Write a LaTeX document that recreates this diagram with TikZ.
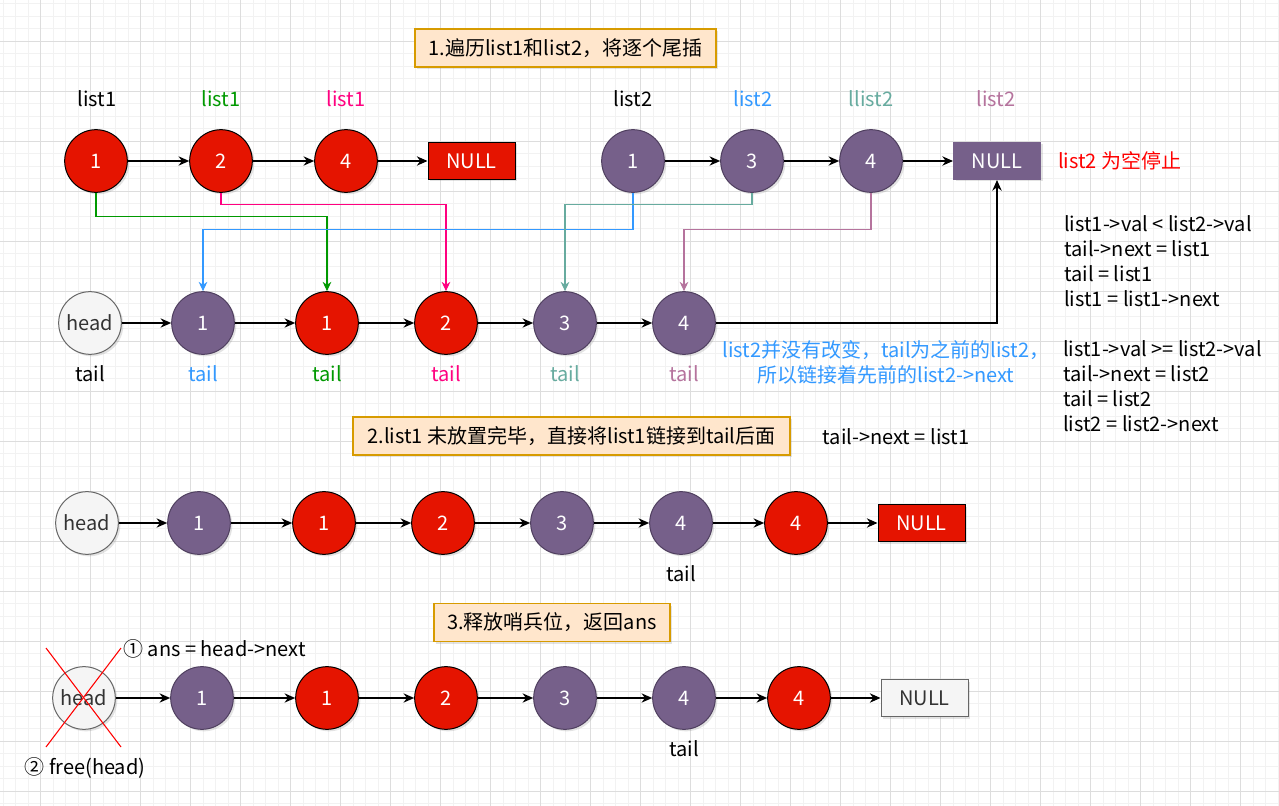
\documentclass[tikz,border=0pt]{standalone}
\usepackage{fontspec}
\setmainfont{Noto Sans CJK SC}
\usepackage{xcolor}
\usepackage{tikz}
\usetikzlibrary{arrows.meta, positioning, shadows}
\definecolor{nodered}{HTML}{E51400}
\definecolor{nodepurple}{HTML}{76608A}
\definecolor{purpleedge}{HTML}{4F3F5F}
\definecolor{headfill}{HTML}{F5F5F5}
\definecolor{headedge}{HTML}{666666}
\definecolor{headtext}{HTML}{333333}
\definecolor{notefill}{HTML}{FFE6CC}
\definecolor{noteedge}{HTML}{D79B00}
\definecolor{tailgreen}{HTML}{009900}
\definecolor{tailpink}{HTML}{FF0080}
\definecolor{tailblue}{HTML}{3399FF}
\definecolor{tailteal}{HTML}{67AB9F}
\definecolor{tailmauve}{HTML}{B5739D}
\definecolor{gridmajor}{HTML}{DDDDDD}
\definecolor{gridminor}{HTML}{F2F2F2}
\tikzset{
  txt/.style={inner sep=0pt, font=\fontsize{15}{18.75}\selectfont},
  softshadow/.style={drop shadow={opacity=0.22, shadow xshift=1.5pt, shadow yshift=-1.5pt}},
  listnode/.style={circle, txt, minimum size=47pt, line width=0.75pt, softshadow},
  rednode/.style={listnode, draw=black, fill=nodered, text=white},
  purplenode/.style={listnode, draw=purpleedge, fill=nodepurple, text=white},
  headnode/.style={listnode, draw=headedge, fill=headfill, text=headtext},
  nullbox/.style={rectangle, txt, minimum width=65.25pt, minimum height=27.75pt, line width=0.75pt, softshadow},
  rednull/.style={nullbox, draw=black, fill=nodered, text=white},
  purplenull/.style={nullbox, draw=nodepurple, fill=nodepurple, text=white},
  whitenull/.style={nullbox, draw=headedge, fill=headfill, text=headtext},
  notebox/.style={rectangle, txt, draw=noteedge, fill=notefill, line width=0.9pt, minimum height=28.5pt, softshadow},
  nextarrow/.style={-{Stealth[length=8pt,width=7pt]}, line width=1pt, black},
  moveline/.style={-{Stealth[length=7pt,width=6.5pt]}, line width=0.8pt}
}

\begin{document}
\begin{tikzpicture}[x=0.75pt, y=-0.75pt]
  \useasboundingbox (0,0) rectangle (1279,806);
  \fill[white] (0,0) rectangle (1279,806);
  \foreach \gx in {3,15.5,...,1279} \draw[gridminor, line width=0.6pt] (\gx,0) -- (\gx,806);
  \foreach \gy in {3.5,16,...,806} \draw[gridminor, line width=0.6pt] (0,\gy) -- (1279,\gy);
  \foreach \gx in {40,90,...,1240} \draw[gridmajor, line width=0.7pt] (\gx,0) -- (\gx,806);
  \foreach \gy in {41,91,...,791} \draw[gridmajor, line width=0.7pt] (0,\gy) -- (1279,\gy);

  % 1. merge
  \node[notebox, minimum width=225.75pt] (step1) at (565.5,48) {1.遍历list1和list2，将逐个尾插};

  \node[txt] (la1) at (97,99) {list1};
  \node[txt, text=tailgreen] (la2) at (221,99) {list1};
  \node[txt, text=tailpink] (la3) at (346,99) {list1};
  \node[txt] (lc1) at (633,99) {list2};
  \node[txt, text=tailblue] (lc2) at (753,99) {list2};
  \node[txt, text=tailteal] (lc3) at (871,99) {llist2};
  \node[txt, text=tailmauve] (lc4) at (996,99) {list2};

  \node[rednode] (a1) at (96,161) {1};
  \node[rednode] (a2) at (221,161) {2};
  \node[rednode] (a3) at (346,161) {4};
  \node[rednull] (a4) at (471.5,161) {NULL};
  \node[purplenode] (c1) at (633,161) {1};
  \node[purplenode] (c2) at (752,161) {3};
  \node[purplenode] (c3) at (871,161) {4};
  \node[purplenull] (c4) at (997,161) {NULL};
  \node[txt, text=red, anchor=west] (stop) at (1058,161) {list2 为空停止};

  \foreach \u/\v in {a1/a2, a2/a3, a3/a4, c1/c2, c2/c3, c3/c4}
    \draw[nextarrow] (\u) -- (\v);

  \node[headnode] (h2) at (90,323) {head};
  \node[purplenode] (b1) at (203,323) {1};
  \node[rednode] (b2) at (327,323) {1};
  \node[rednode] (b3) at (446,323) {2};
  \node[purplenode] (b4) at (565,323) {3};
  \node[purplenode] (b5) at (684,323) {4};

  \foreach \u/\v in {h2/b1, b1/b2, b2/b3, b3/b4, b4/b5}
    \draw[nextarrow] (\u) -- (\v);
  \draw[nextarrow] (b5) -| (c4);

  \draw[moveline, tailgreen] (a1.south) -- ++(0,23.5) -| (b2.north);
  \draw[moveline, tailpink] (a2.south) -- ++(0,11.5) -| (b3.north);
  \draw[moveline, tailblue] (c1.south) -- ++(0,36.5) -| (b1.north);
  \draw[moveline, tailteal] (c2.south) -- ++(0,11.5) -| (b4.north);
  \draw[moveline, tailmauve] (c3.south) -- ++(0,36.5) -| (b5.north);

  \node[txt] (t0) at (90,374) {tail};
  \node[txt, text=tailblue] (t1) at (203,374) {tail};
  \node[txt, text=tailgreen] (t2) at (327,374) {tail};
  \node[txt, text=tailpink] (t3) at (446,374) {tail};
  \node[txt, text=tailteal] (t4) at (565,374) {tail};
  \node[txt, text=tailmauve] (t5) at (684,374) {tail};

  \node[txt, text=tailblue, align=center] (why) at (886,362) {list2并没有改变，tail为之前的list2，\\所以链接着先前的list2->next};

  \node[txt, align=left, anchor=west] (rule1) at (1064,261.5) {list1->val < list2->val\\tail->next = list1\\tail = list1\\list1 = list1->next};
  \node[txt, align=left, anchor=west] (rule2) at (1063,386.5) {list1->val >= list2->val\\tail->next = list2\\tail = list2\\list2 = list2->next};

  % 2. rest of list1
  \node[notebox, minimum width=327.75pt] (step2) at (571.5,436) {2.list1 未放置完毕，直接将list1链接到tail后面};
  \node[txt] (step2code) at (896,437) {tail->next = list1};

  \node[headnode] (h3) at (87,523) {head};
  \node[purplenode] (d1) at (199,523) {1};
  \node[rednode] (d2) at (324,523) {1};
  \node[rednode] (d3) at (443,523) {2};
  \node[purplenode] (d4) at (562,523) {3};
  \node[purplenode] (d5) at (681,523) {4};
  \node[rednode] (d6) at (796,523) {4};
  \node[rednull] (d7) at (921.5,523) {NULL};
  \foreach \u/\v in {h3/d1, d1/d2, d2/d3, d3/d4, d4/d5, d5/d6, d6/d7}
    \draw[nextarrow] (\u) -- (\v);
  \node[txt] (t6) at (681,574) {tail};

  % 3. free head
  \node[notebox, minimum width=177pt] (step3) at (552,622.5) {3.释放哨兵位，返回ans};

  \node[headnode] (h4) at (84,698) {head};
  \node[purplenode] (e1) at (202,698) {1};
  \node[rednode] (e2) at (327,698) {1};
  \node[rednode] (e3) at (446,698) {2};
  \node[purplenode] (e4) at (565,698) {3};
  \node[purplenode] (e5) at (684,698) {4};
  \node[rednode] (e6) at (799,698) {4};
  \node[whitenull] (e7) at (924.5,698) {NULL};
  \foreach \u/\v in {h4/e1, e1/e2, e2/e3, e3/e4, e4/e5, e5/e6, e6/e7}
    \draw[nextarrow] (\u) -- (\v);
  \node[txt] (t7) at (684,749) {tail};

  \draw[red, line width=0.8pt] (46,648) -- (121,747);
  \draw[red, line width=0.8pt] (121,648) -- (46,747);
  \node[txt] (ans) at (214.5,649) {① ans = head->next};
  \node[txt] (freehead) at (85,768) {② free(head)};
\end{tikzpicture}
\end{document}
